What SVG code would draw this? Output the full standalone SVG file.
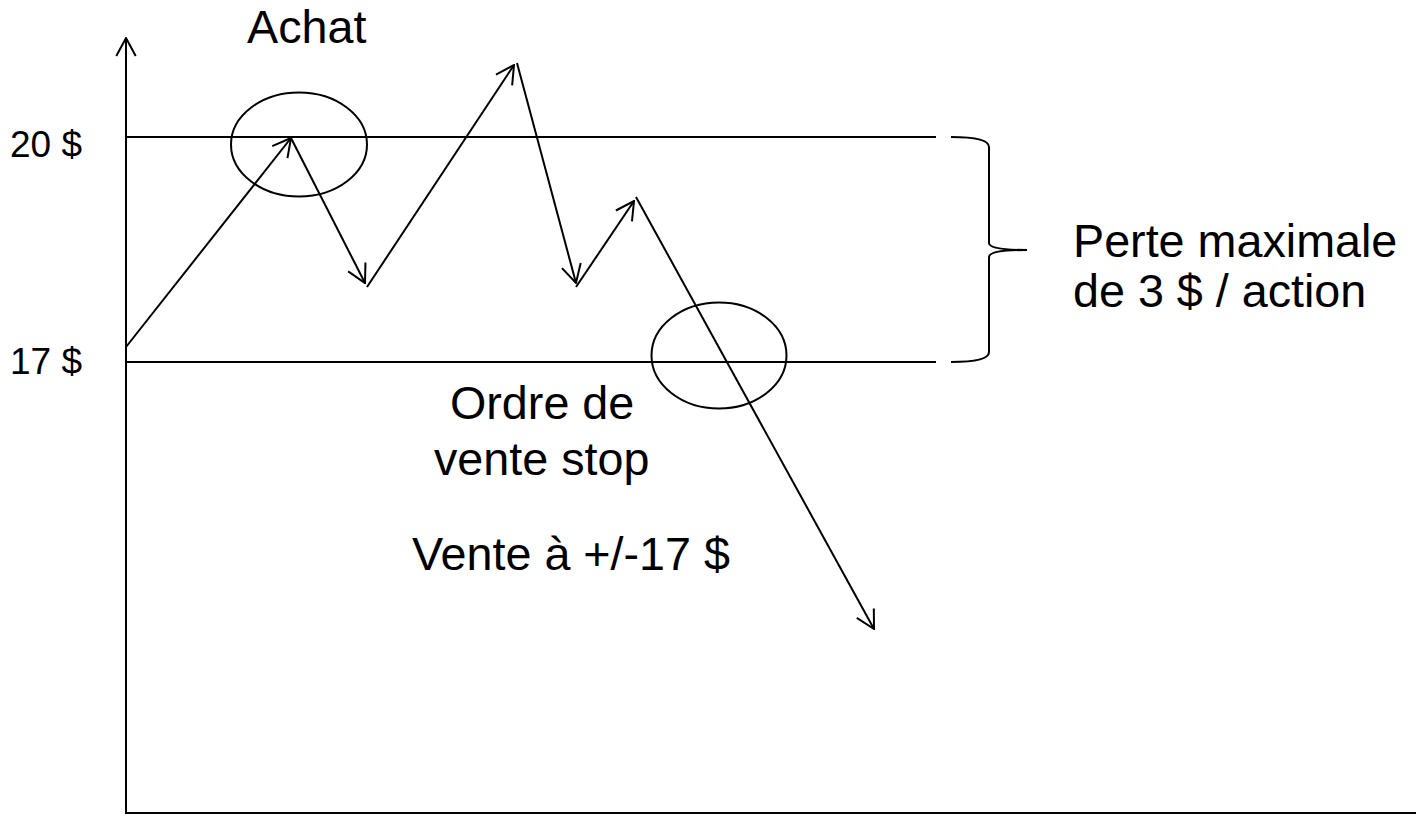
<svg xmlns="http://www.w3.org/2000/svg" width="1416" height="824" viewBox="0 0 1416 824">
<style>
.ln{stroke:#000;stroke-width:2;fill:none}
.big{font-family:"Liberation Sans",Arial,sans-serif;font-size:46.7px;fill:#000}
.ax{font-family:"Liberation Sans",Arial,sans-serif;font-size:37px;fill:#000}
</style>
<defs>
<marker id="ah" viewBox="0 0 20 22" refX="19" refY="11" markerWidth="20" markerHeight="22" markerUnits="userSpaceOnUse" orient="auto">
<path d="M1,1.3 L19,11 L1,20.7" fill="none" stroke="#000" stroke-width="2"/>
</marker>
</defs>
<rect width="1416" height="824" fill="#fff"/>
<g id="axes">
<line class="ln" x1="126" y1="813" x2="126" y2="38" marker-end="url(#ah)"/>
<line class="ln" x1="125" y1="813" x2="1416" y2="813"/>
</g>
<g id="levels">
<line class="ln" x1="126" y1="137" x2="936" y2="137"/>
<line class="ln" x1="126" y1="362" x2="936" y2="362"/>
<text class="ax" x="10" y="157">20 $</text>
<text class="ax" x="10" y="374">17 $</text>
</g>
<g id="achat">
<ellipse class="ln" cx="299" cy="144.5" rx="68" ry="52"/>
<text class="big" x="247" y="43">Achat</text>
</g>
<g id="stop">
<ellipse class="ln" cx="719" cy="355.5" rx="67.5" ry="53"/>
<text class="big" x="450" y="419">Ordre de</text>
<text class="big" x="434" y="475">vente stop</text>
<text class="big" x="412" y="570">Vente à +/-17 $</text>
</g>
<g id="perte">
<path class="ln" d="M951,137 Q989,137 989,147 L989,243 Q989,250 1027,250 Q989,250 989,257 L989,352 Q989,362 951,362"/>
<text class="big" x="1073" y="257">Perte maximale</text>
<text class="big" x="1073" y="307">de 3 $ / action</text>
</g>
<g id="connectors">
<line class="ln" x1="126" y1="347" x2="291" y2="138" marker-end="url(#ah)"/>
<line class="ln" x1="291" y1="138" x2="365" y2="283" marker-end="url(#ah)"/>
<line class="ln" x1="367" y1="287" x2="514" y2="65" marker-end="url(#ah)"/>
<line class="ln" x1="517" y1="63" x2="576" y2="283" marker-end="url(#ah)"/>
<line class="ln" x1="576" y1="287" x2="634" y2="201" marker-end="url(#ah)"/>
<line class="ln" x1="636" y1="197" x2="874" y2="629" marker-end="url(#ah)"/>
</g>
</svg>
